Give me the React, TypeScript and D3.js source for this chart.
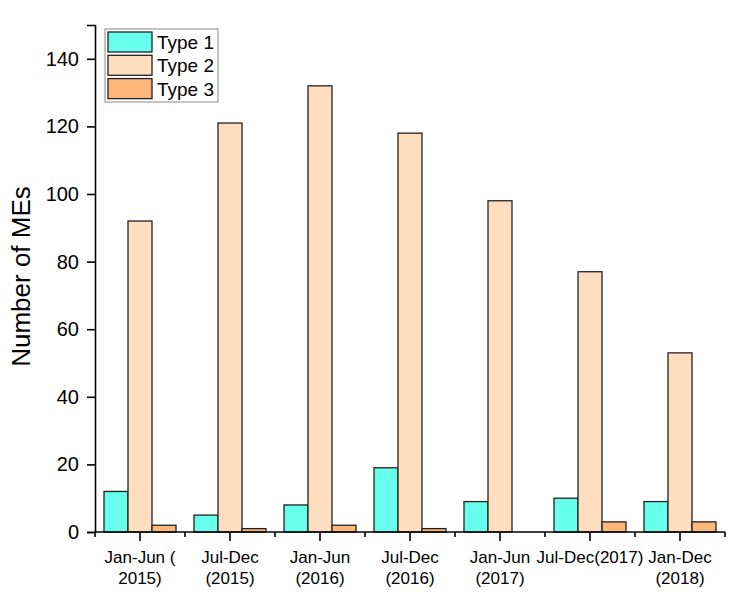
import {useEffect, useRef} from "react";
import * as d3 from "d3";

const periods = [
    ["Jan-Jun (", "2015)"],
    ["Jul-Dec", "(2015)"],
    ["Jan-Jun", "(2016)"],
    ["Jul-Dec", "(2016)"],
    ["Jan-Jun", "(2017)"],
    ["Jul-Dec(2017)"],
    ["Jan-Dec", "(2018)"],
];
const seriesNames = ["Type 1", "Type 2", "Type 3"];
const type1 = [12, 5, 8, 19, 9, 10, 9];
const type2 = [92, 121, 132, 118, 98, 77, 53];
const type3 = [2, 1, 2, 1, 0, 3, 3];
const colors = ["#66FFEE", "#FFDEC0", "#FFB87A"];
const yTicks = [0, 20, 40, 60, 80, 100, 120, 140];

const W = 734, H = 599;
const margin = {left: 95, right: 9, top: 25, bottom: 67};

const App = () => {
    const ref = useRef(null);

    useEffect(() => {
        const svg = d3.select(ref.current);
        svg.selectAll("*").remove();
        const font = "Arial, 'Liberation Sans', sans-serif";

        const x = d3.scaleBand()
            .domain(periods.map((_, i) => String(i)))
            .range([margin.left, W - margin.right]);
        const inner = d3.scaleBand()
            .domain(seriesNames)
            .range([0, x.bandwidth()])
            .paddingOuter(0.375)
            .paddingInner(0);
        const y = d3.scaleLinear().domain([0, 150]).range([H - margin.bottom, margin.top]);

        const all = [type1, type2, type3];
        const g = svg.append("g");
        periods.forEach((_, i) => {
            seriesNames.forEach((s, k) => {
                const v = all[k][i];
                g.append("rect")
                    .attr("x", x(String(i))! + inner(s)!)
                    .attr("y", y(v))
                    .attr("width", inner.bandwidth())
                    .attr("height", y(0) - y(v))
                    .attr("fill", colors[k])
                    .attr("stroke", "#222")
                    .attr("stroke-width", 1.3);
            });
        });

        // y axis
        const yAxis = svg.append("g").attr("transform", `translate(${margin.left},0)`);
        yAxis.call(d3.axisLeft(y).tickValues(d3.range(0, 151, 10)).tickSize(4).tickFormat(() => ""));
        yAxis.call(d3.axisLeft(y).tickValues(yTicks).tickSize(8).tickSizeOuter(8).tickFormat(d3.format("d")));
        yAxis.selectAll("path, line").attr("stroke", "#000").attr("stroke-width", 1.6);
        yAxis.selectAll("text").attr("font-size", 20).attr("font-family", font).attr("fill", "#000").attr("dx", "-5");

        // x axis
        const xAxis = svg.append("g").attr("transform", `translate(0,${y(0)})`);
        const bounds = d3.range(periods.length + 1).map(i => margin.left + i * x.step());
        xAxis.append("line")
            .attr("x1", margin.left).attr("x2", W - margin.right)
            .attr("stroke", "#000").attr("stroke-width", 1.6);
        bounds.forEach(b => {
            xAxis.append("line").attr("x1", b).attr("x2", b).attr("y2", 5)
                .attr("stroke", "#000").attr("stroke-width", 1.6);
        });
        periods.forEach((lines, i) => {
            const cx = x(String(i))! + x.bandwidth() / 2;
            xAxis.append("line").attr("x1", cx).attr("x2", cx).attr("y2", 9)
                .attr("stroke", "#000").attr("stroke-width", 1.6);
            const t = xAxis.append("text")
                .attr("text-anchor", "middle")
                .attr("font-size", 17)
                .attr("font-family", font)
                .attr("fill", "#000");
            lines.forEach((l, j) => {
                t.append("tspan").attr("x", cx).attr("y", 31 + j * 20.5).text(l);
            });
        });

        // y label
        svg.append("text")
            .attr("transform", `translate(30,${(y(0) + margin.top) / 2 - 2}) rotate(-90)`)
            .attr("text-anchor", "middle")
            .attr("font-size", 26)
            .attr("font-family", font)
            .attr("fill", "#000")
            .text("Number of MEs");

        // legend
        const lg = svg.append("g").attr("transform", "translate(105,29)");
        lg.append("rect").attr("width", 113).attr("height", 73)
            .attr("fill", "#fff").attr("stroke", "#888").attr("stroke-width", 1);
        seriesNames.forEach((s, k) => {
            lg.append("rect")
                .attr("x", 3).attr("y", 3 + k * 23.3)
                .attr("width", 44).attr("height", 20)
                .attr("fill", colors[k]).attr("stroke", "#222").attr("stroke-width", 1.3);
            lg.append("text")
                .attr("x", 52).attr("y", 20 + k * 23.3)
                .attr("font-size", 19).attr("font-family", font).attr("fill", "#000")
                .text(s);
        });
    }, []);

    return (
        <div>
            <svg ref={ref} width={W} height={H} style={{display: "block", margin: -8}}></svg>
        </div>
    );
};

export default App;
